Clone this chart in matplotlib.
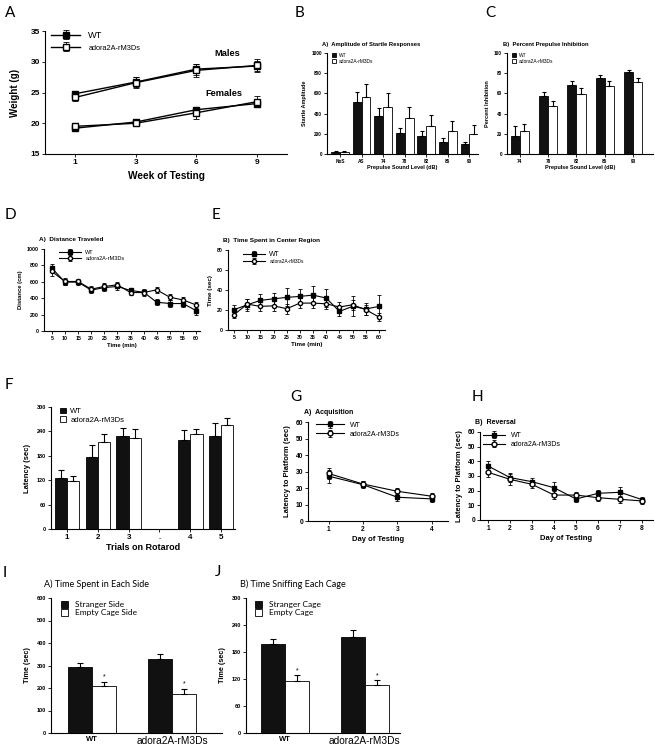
import matplotlib.pyplot as plt
import numpy as np

W, H = 655, 756
plt.rcParams['font.family'] = ['Liberation Sans', 'DejaVu Sans']

# ---- A: body weight ----
weeks = ["1", "3", "6", "9"]
male_wt = [24.8, 26.7, 28.8, 29.3]
male_wt_err = [0.5, 0.8, 0.9, 0.8]
male_ad = [24.2, 26.6, 28.6, 29.4]
male_ad_err = [0.6, 0.9, 1.0, 1.0]
female_wt = [19.2, 20.2, 22.2, 23.2]
female_wt_err = [0.3, 0.4, 0.5, 0.5]
female_ad = [19.5, 20.0, 21.7, 23.5]
female_ad_err = [0.4, 0.5, 1.0, 0.9]

# ---- B: startle amplitude ----
startle_levels = ["NoS", "AS", "74", "78", "82", "86", "90"]
startle_wt = [23, 513, 381, 205, 182, 122, 96]
startle_wt_err = [10, 96, 73, 57, 50, 33, 20]
startle_ad = [20, 560, 470, 354, 281, 232, 199]
startle_ad_err = [6, 132, 136, 116, 103, 99, 86]

# ---- C: prepulse inhibition ----
ppi_levels = ["74", "78", "82", "86", "90"]
ppi_wt = [17.5, 57.8, 68.3, 75.2, 80.9]
ppi_wt_err = [10.5, 3.2, 3.7, 3.3, 2.6]
ppi_ad = [23.0, 47.2, 59.4, 67.0, 71.3]
ppi_ad_err = [6.7, 5.6, 5.9, 5.6, 3.9]

# ---- D / E: open field ----
minutes = [5, 10, 15, 20, 25, 30, 35, 40, 45, 50, 55, 60]
dist_wt = [767, 596, 596, 498, 530, 543, 494, 473, 351, 335, 335, 249]
dist_wt_err = [50, 40, 30, 40, 40, 40, 30, 30, 40, 40, 40, 50]
dist_ad = [726, 604, 604, 510, 543, 563, 469, 469, 502, 412, 379, 318]
dist_ad_err = [60, 40, 30, 40, 40, 40, 30, 40, 40, 40, 40, 40]
center_wt = [20.3, 25.2, 29.6, 31.2, 32.6, 33.6, 34.9, 31.9, 18.6, 23.6, 21.0, 23.6]
center_wt_err = [5, 6, 6, 6, 9, 7, 9, 9, 5, 10, 6, 11]
center_ad = [15.3, 25.9, 23.6, 24.2, 21.3, 26.9, 26.9, 26.2, 23.0, 25.2, 20.3, 13.0]
center_ad_err = [3, 5, 5, 5, 5, 5, 5, 5, 5, 5, 5, 4]

# ---- F: rotarod ----
rotarod_trials = ["1", "2", "3", ".", "4", "5"]
rotarod_wt = [125, 176, 229, 220, 229]
rotarod_wt_err = [19, 30, 20, 24, 31]
rotarod_ad = [118, 214, 223, 233, 255]
rotarod_ad_err = [12, 19, 22, 14, 19]

# ---- G / H: water maze ----
acq_days = [1, 2, 3, 4]
acq_wt = [27.2, 22.0, 14.4, 13.4]
acq_wt_err = [4, 2, 2, 2]
acq_ad = [28.8, 22.4, 18.0, 15.0]
acq_ad_err = [3.5, 2, 2, 2]
rev_days = [1, 2, 3, 4, 5, 6, 7, 8]
rev_wt = [36.8, 28.9, 26.1, 22.0, 14.3, 18.2, 18.9, 13.9]
rev_wt_err = [3.5, 3, 2.5, 4, 2, 2.5, 3.5, 2]
rev_ad = [32.5, 27.7, 24.3, 17.0, 17.0, 15.2, 14.1, 13.0]
rev_ad_err = [3.5, 3.5, 2.5, 3, 2, 2, 2.5, 2]

# ---- I / J: social interaction ----
groups = ["WT", "adora2A-rM3Ds"]
side_stranger = [292, 330]
side_stranger_err = [21, 21]
side_empty = [207, 173]
side_empty_err = [20, 23]
cage_stranger = [198, 214]
cage_stranger_err = [10, 16]
cage_empty = [116, 107]
cage_empty_err = [12, 10]


def box(l, t, r, b):
    return [l / W, 1 - b / H, (r - l) / W, (b - t) / H]


def ftext(x, y, s, **kw):
    fig.text(x / W, 1 - y / H, s, **kw)


def style(ax, fs, bold=True):
    for s in ('top', 'right'):
        ax.spines[s].set_visible(False)
    for s in ('left', 'bottom'):
        ax.spines[s].set_linewidth(0.8)
    ax.tick_params(labelsize=fs, length=2, width=0.6, pad=1.5)
    if bold:
        plt.setp(ax.get_xticklabels() + ax.get_yticklabels(), fontweight='bold')


def line_pair(ax, x, wt, wt_err, ad, ad_err, ms, lw=0.8, cs=1.5, ad_marker='o'):
    h1 = ax.errorbar(x, wt, yerr=wt_err, color='black', marker='s', ms=ms,
                     mfc='black', lw=lw, elinewidth=0.6, capsize=cs, capthick=0.6)
    h2 = ax.errorbar(x, ad, yerr=ad_err, color='black', marker=ad_marker, ms=ms,
                     mfc='white', lw=lw, elinewidth=0.6, capsize=cs, capthick=0.6)
    return h1, h2


def bar_pair(ax, x, a, a_err, b, b_err, w, cs=2):
    x = np.asarray(x, dtype=float)
    ek = dict(elinewidth=0.8, capsize=cs, capthick=0.8, ecolor='black')
    h1 = ax.bar(x - w / 2, a, w, color='#111111', edgecolor='black', lw=0.6,
                yerr=[np.zeros(len(a)), a_err], error_kw=ek)
    h2 = ax.bar(x + w / 2, b, w, color='white', edgecolor='black', lw=0.6,
                yerr=[np.zeros(len(b)), b_err], error_kw=ek)
    return h1, h2


fig = plt.figure(figsize=(W / 100, H / 100), dpi=100)

# ======== A ========
ax = fig.add_axes(box(45, 31, 287, 154))
xa = np.arange(len(weeks))
h1, h2 = line_pair(ax, xa, male_wt, male_wt_err, male_ad, male_ad_err, 4.5, lw=1, cs=2, ad_marker='s')
line_pair(ax, xa, female_wt, female_wt_err, female_ad, female_ad_err, 4.5, lw=1, cs=2, ad_marker='s')
ax.set_xlim(-0.5, 3.5)
ax.set_ylim(15, 35)
ax.set_yticks([15, 20, 25, 30, 35])
ax.set_xticks(xa, weeks)
ax.tick_params(axis='x', length=0)
style(ax, 6)
ax.set_xlabel("Week of Testing", fontsize=7.3, fontweight='bold', labelpad=4)
ax.set_ylabel("Weight (g)", fontsize=7, fontweight='bold', labelpad=8)
leg = ax.legend([h1, h2], ["WT", "adora2A-rM3Ds"], loc='upper left', bbox_to_anchor=(0.01, 1.03),
                frameon=False, fontsize=6.7, handlelength=3.1, handletextpad=0.9,
                labelspacing=0.35, borderaxespad=0)
leg.get_texts()[1].set_fontsize(5.3)
ax.text(2.52, 31.4, "Males", fontsize=6.7, fontweight='bold', ha='center', va='center')
ax.text(2.46, 24.9, "Females", fontsize=6.7, fontweight='bold', ha='center', va='center')

# ======== B ========
ax = fig.add_axes(box(327, 53, 478, 154))
xb = np.arange(len(startle_levels))
h1, h2 = bar_pair(ax, xb, startle_wt, startle_wt_err, startle_ad, startle_ad_err, 0.41, cs=1.5)
ax.set_xlim(-0.6, 6.4)
ax.set_ylim(0, 1000)
ax.set_yticks(range(0, 1001, 200))
ax.set_xticks(xb, startle_levels)
style(ax, 3.4)
ax.set_xlabel("Prepulse Sound Level (dB)", fontsize=4, fontweight='bold', labelpad=1)
ax.set_ylabel("Startle Amplitude", fontsize=4, fontweight='bold', labelpad=3)
ax.set_title("A)  Amplitude of Startle Responses", fontsize=4.2, fontweight='bold', loc='left', x=-0.03, pad=5)
ax.legend([h1, h2], ["WT", "adora2A-rM3Ds"], loc='upper left', bbox_to_anchor=(0.02, 1.02),
          frameon=False, fontsize=3.5, handlelength=0.8, handleheight=0.8, handletextpad=0.6,
          labelspacing=0.2, borderaxespad=0)

# ======== C ========
ax = fig.add_axes(box(507, 53, 653, 154))
xc = np.arange(len(ppi_levels))
h1, h2 = bar_pair(ax, xc, ppi_wt, ppi_wt_err, ppi_ad, ppi_ad_err, 0.32, cs=1.5)
ax.set_xlim(-0.45, 4.7)
ax.set_ylim(0, 100)
ax.set_yticks(range(0, 101, 20))
ax.set_xticks(xc, ppi_levels)
style(ax, 3.4)
ax.set_xlabel("Prepulse Sound Level (dB)", fontsize=4, fontweight='bold', labelpad=1)
ax.set_ylabel("Percent Inhibition", fontsize=4, fontweight='bold', labelpad=3)
ax.set_title("B)  Percent Prepulse Inhibition", fontsize=4.2, fontweight='bold', loc='left', x=-0.03, pad=5)
ax.legend([h1, h2], ["WT", "adora2A-rM3Ds"], loc='upper left', bbox_to_anchor=(0.02, 1.02),
          frameon=False, fontsize=3.5, handlelength=0.8, handleheight=0.8, handletextpad=0.6,
          labelspacing=0.2, borderaxespad=0)

# ======== D ========
ax = fig.add_axes(box(44, 249, 200, 331))
h1, h2 = line_pair(ax, minutes, dist_wt, dist_wt_err, dist_ad, dist_ad_err, 3)
ax.set_xlim(2, 61.5)
ax.set_ylim(0, 1000)
ax.set_yticks(range(0, 1001, 200))
ax.set_xticks(minutes)
style(ax, 3.8)
ax.set_xlabel("Time (min)", fontsize=4.2, fontweight='bold', labelpad=1.5)
ax.set_ylabel("Distance (cm)", fontsize=4.2, fontweight='bold', labelpad=3)
ax.set_title("A)  Distance Traveled", fontsize=4.6, fontweight='bold', loc='left', x=-0.03, pad=6)
ax.legend([h1, h2], ["WT", "adora2A-rM3Ds"], loc='upper left', bbox_to_anchor=(0.08, 1.02),
          frameon=False, fontsize=4, handlelength=4, labelspacing=0.2, borderaxespad=0)

# ======== E ========
ax = fig.add_axes(box(228, 250, 385, 330))
h1, h2 = line_pair(ax, minutes, center_wt, center_wt_err, center_ad, center_ad_err, 3)
ax.set_xlim(2.7, 62.3)
ax.set_ylim(0, 80)
ax.set_yticks(range(0, 81, 20))
ax.set_xticks(minutes)
style(ax, 3.8)
ax.set_xlabel("Time (min)", fontsize=4.5, fontweight='bold', labelpad=1.5)
ax.set_ylabel("Time (sec)", fontsize=4.5, fontweight='bold', labelpad=3)
ax.set_title("B)  Time Spent in Center Region", fontsize=4.6, fontweight='bold', loc='left', x=-0.03, pad=6)
leg = ax.legend([h1, h2], ["WT", "adora2A-rM3Ds"], loc='upper left', bbox_to_anchor=(0.08, 1.02),
                frameon=False, fontsize=4, handlelength=4, labelspacing=0.2, borderaxespad=0)
leg.get_texts()[0].set_fontsize(5)
leg.get_texts()[1].set_fontsize(3.5)

# ======== F ========
ax = fig.add_axes(box(51, 407, 235, 529))
xf_all = np.arange(len(rotarod_trials))
xf = [i for i, t in zip(xf_all, rotarod_trials) if t != "."]
h1, h2 = bar_pair(ax, xf, rotarod_wt, rotarod_wt_err, rotarod_ad, rotarod_ad_err, 0.4, cs=2.5)
ax.set_xlim(-0.52, 5.45)
ax.set_ylim(0, 300)
ax.set_yticks(range(0, 301, 60))
ax.set_xticks(xf_all, rotarod_trials)
style(ax, 4)
plt.setp(ax.get_xticklabels(), fontsize=5.8)
ax.set_xlabel("Trials on Rotarod", fontsize=6.5, fontweight='bold', labelpad=1.5)
ax.set_ylabel("Latency (sec)", fontsize=5.5, fontweight='bold', labelpad=4)
ax.legend([h1, h2], ["WT", "adora2A-rM3Ds"], loc='upper left', bbox_to_anchor=(0.03, 1.02),
          frameon=False, fontsize=5.5, handlelength=0.8, handleheight=0.8, handletextpad=0.6,
          labelspacing=0.1, borderaxespad=0)

# ======== G ========
ax = fig.add_axes(box(308, 422, 448, 521))
h1, h2 = line_pair(ax, acq_days, acq_wt, acq_wt_err, acq_ad, acq_ad_err, 3.5)
ax.set_xlim(0.4, 4.47)
ax.set_ylim(0, 60)
ax.set_yticks(range(0, 61, 10))
ax.set_xticks(acq_days)
style(ax, 4.8)
ax.set_xlabel("Day of Testing", fontsize=5.5, fontweight='bold', labelpad=2)
ax.set_ylabel("Latency to Platform (sec)", fontsize=5.5, fontweight='bold', labelpad=3)
ax.set_title("A)  Acquisition", fontsize=5, fontweight='bold', loc='left', x=-0.03, pad=6)
ax.legend([h1, h2], ["WT", "adora2A-rM3Ds"], loc='upper left', bbox_to_anchor=(0.04, 1.03),
          frameon=False, fontsize=5, handlelength=4, labelspacing=0.3, borderaxespad=0)

# ======== H ========
ax = fig.add_axes(box(480, 432, 653, 520))
h1, h2 = line_pair(ax, rev_days, rev_wt, rev_wt_err, rev_ad, rev_ad_err, 3.5)
ax.set_xlim(0.63, 8.5)
ax.set_ylim(0, 60)
ax.set_yticks(range(0, 61, 10))
ax.set_xticks(rev_days)
style(ax, 4.8)
ax.set_xlabel("Day of Testing", fontsize=5.5, fontweight='bold', labelpad=2)
ax.set_ylabel("Latency to Platform (sec)", fontsize=5.5, fontweight='bold', labelpad=3)
ax.set_title("B)  Reversal", fontsize=5, fontweight='bold', loc='left', x=-0.03, pad=6)
ax.legend([h1, h2], ["WT", "adora2A-rM3Ds"], loc='upper left', bbox_to_anchor=(0.0, 1.03),
          frameon=False, fontsize=5, handlelength=3.2, labelspacing=0.3, borderaxespad=0)

# ======== I / J ========
xi = np.arange(len(groups))
for box_px, xlim, st, st_err, em, em_err, ylim, yt, title, labs in [
    ((51, 598, 222, 733), (-0.51, 1.62), side_stranger, side_stranger_err, side_empty, side_empty_err,
     600, 100, "A) Time Spent in Each Side", ["Stranger Side", "Empty Cage Side"]),
    ((246, 598, 400, 733), (-0.49, 1.44), cage_stranger, cage_stranger_err, cage_empty, cage_empty_err,
     300, 60, "B) Time Sniffing Each Cage", ["Stranger Cage", "Empty Cage"]),
]:
    ax = fig.add_axes(box(*box_px))
    h1, h2 = bar_pair(ax, xi, st, st_err, em, em_err, 0.3, cs=2.5)
    ax.set_xlim(*xlim)
    ax.set_ylim(0, ylim)
    ax.set_yticks(range(0, ylim + 1, yt))
    ax.set_xticks(xi, groups)
    style(ax, 4)
    ax.tick_params(axis='x', length=0, pad=2)
    xl = ax.get_xticklabels()
    xl[0].set_fontsize(5.5)
    xl[1].set_fontsize(7.3)
    xl[1].set_fontweight('normal')
    ax.set_ylabel("Time (sec)", fontsize=5.2, fontweight='bold', labelpad=4)
    ax.set_title(title, fontsize=6.5, loc='left', x=-0.04, pad=8, family=['Lato', 'DejaVu Sans'])
    ax.legend([h1, h2], labs, loc='upper left', bbox_to_anchor=(0.04, 1.0),
              frameon=False, handlelength=0.8, handleheight=0.8, handletextpad=0.8,
              labelspacing=0.1, borderaxespad=0, prop={'family': ['Lato', 'DejaVu Sans'], 'size': 6})
    for xx, e, ee in zip(xi, em, em_err):
        ax.text(xx + 0.15, e + ee + ylim * 0.01, "*", ha='center', va='bottom', fontsize=5)

# panel letters
for lab, x, y in [("A", 5, 13), ("B", 295, 13), ("C", 485, 13), ("D", 5, 215), ("E", 212, 215),
                  ("F", 5, 385), ("G", 290, 397), ("H", 472, 397), ("I", 3, 573), ("J", 215, 572)]:
    ftext(x, y, lab, fontsize=11, va='center', ha='left', family=['Lato', 'DejaVu Sans'])

fig.savefig("out.png", dpi=100)
